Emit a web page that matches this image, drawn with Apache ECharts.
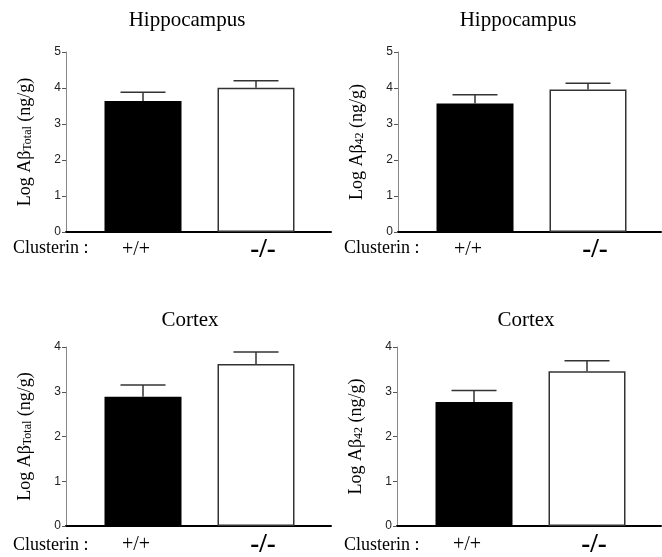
<!DOCTYPE html>
<html>
<head>
<meta charset="utf-8">
<script src="https://cdn.jsdelivr.net/npm/echarts@6/dist/echarts.min.js"></script>
<style>
html,body{margin:0;padding:0;background:#fff;}
#c{width:662px;height:557px;}
</style>
</head>
<body>
<div id="c"></div>
<script>
// ---- data ----
const categories = ['+/+', '-/-'];
const groupLabel = 'Clusterin :';
const titles = ['Hippocampus', 'Hippocampus', 'Cortex', 'Cortex'];
const yNames = ['Total', '42', 'Total', '42'];
const yMaxes = [5, 5, 4, 4];
const hippoTotal = [3.64, 4.01];
const hippoTotalErr = [3.88, 4.20];
const hippo42 = [3.57, 3.96];
const hippo42Err = [3.81, 4.13];
const cortexTotal = [2.89, 3.62];
const cortexTotalErr = [3.15, 3.89];
const cortex42 = [2.77, 3.46];
const cortex42Err = [3.03, 3.69];

const panelValues = [hippoTotal, hippo42, cortexTotal, cortex42];
const panelErrs = [hippoTotalErr, hippo42Err, cortexTotalErr, cortex42Err];

// ---- layout ----
const grids = [
  {left: 66, top: 52, width: 265, height: 180},
  {left: 398, top: 52, width: 263, height: 180},
  {left: 66, top: 347, width: 265, height: 179},
  {left: 397, top: 347, width: 264, height: 179}
];
const titlePos = [[187, 10], [518, 10], [190, 310], [526, 310]];
const groupLabelGap = [7, 7, 10, 10];
const pxPerCat = 113;
const firstOffset = 77;
const barW = 77;
const capW = 45;
const serif = '"Liberation Serif","Times New Roman",serif';

const option = {
  animation: false,
  backgroundColor: '#fff',
  title: titles.map((t, i) => ({
    text: t, left: titlePos[i][0], top: titlePos[i][1], textAlign: 'center', padding: 0,
    textStyle: {fontFamily: serif, fontSize: 21, fontWeight: 'normal', color: '#000'}
  })),
  grid: grids.map(g => Object.assign({containLabel: false, outerBoundsMode: 'none'}, g)),
  xAxis: grids.map((g, i) => {
    const mn = 1 - firstOffset / pxPerCat;
    return {
      type: 'value', gridIndex: i, min: mn, max: mn + g.width / pxPerCat,
      splitLine: {show: false},
      axisLine: {show: true, lineStyle: {color: '#000', width: 2}},
      axisTick: {show: false},
      axisLabel: {
        customValues: categories.map((c, k) => k + 1),
        margin: i < 2 ? 4 : 5,
        formatter: v => {
          const k = Math.round(v) - 1;
          return k === 0 ? '{a|' + categories[0] + '}' : '{b|' + categories[k] + '}';
        },
        rich: {
          a: {fontFamily: serif, fontSize: 20, color: '#000', lineHeight: 28, verticalAlign: 'middle', padding: [0, 14, 0, 0]},
          b: {fontFamily: serif, fontSize: 27, fontWeight: 'bold', color: '#000', lineHeight: 28, verticalAlign: 'middle', padding: [0, 0, 0, 14]}
        }
      }
    };
  }),
  yAxis: grids.map((g, i) => ({
    type: 'value', gridIndex: i, min: 0, max: yMaxes[i], interval: 1,
    splitLine: {show: false},
    axisLine: {show: true, lineStyle: {color: '#888', width: 1}},
    axisTick: {show: true, length: 4, lineStyle: {color: '#555'}},
    axisLabel: {fontFamily: '"Liberation Sans",Arial,sans-serif', fontSize: 12, color: '#222', margin: 5},
    name: '{m|Log Aβ}{s|' + yNames[i] + '}{m| (ng/g)}',
    nameLocation: 'middle',
    nameGap: 32,
    nameTextStyle: {
      rich: {
        m: {fontFamily: serif, fontSize: 18, color: '#000', verticalAlign: 'bottom', lineHeight: 22},
        s: {fontFamily: serif, fontSize: 12, color: '#000', verticalAlign: 'bottom', lineHeight: 16}
      }
    }
  })),
  graphic: grids.map((g, i) => ({
    type: 'text',
    left: i % 2 === 0 ? 13 : 344,
    top: g.top + g.height + groupLabelGap[i],
    style: {text: groupLabel, fontFamily: serif, fontSize: 18, fill: '#000'}
  })),
  series: []
};

panelValues.forEach((vals, i) => {
  option.series.push({
    type: 'bar', xAxisIndex: i, yAxisIndex: i, barWidth: barW,
    data: vals.map((v, k) => ({
      value: [k + 1, v],
      itemStyle: k === 0 ? {color: '#000', borderColor: '#000', borderWidth: 0}
                         : {color: '#fff', borderColor: '#333', borderWidth: 1.5}
    }))
  });
  option.series.push({
    type: 'custom', xAxisIndex: i, yAxisIndex: i, z: 5,
    data: vals.map((v, k) => [k + 1, v, panelErrs[i][k]]),
    renderItem: (params, api) => {
      const p0 = api.coord([api.value(0), api.value(1)]);
      const p1 = api.coord([api.value(0), api.value(2)]);
      const st = {stroke: '#333', lineWidth: 1.5};
      return {
        type: 'group',
        children: [
          {type: 'line', shape: {x1: p0[0], y1: p0[1], x2: p1[0], y2: p1[1]}, style: st},
          {type: 'line', shape: {x1: p1[0] - capW / 2, y1: p1[1], x2: p1[0] + capW / 2, y2: p1[1]}, style: st}
        ]
      };
    }
  });
});

const chart = echarts.init(document.getElementById('c'), null, {renderer: 'canvas'});
chart.setOption(option);
</script>
</body>
</html>
